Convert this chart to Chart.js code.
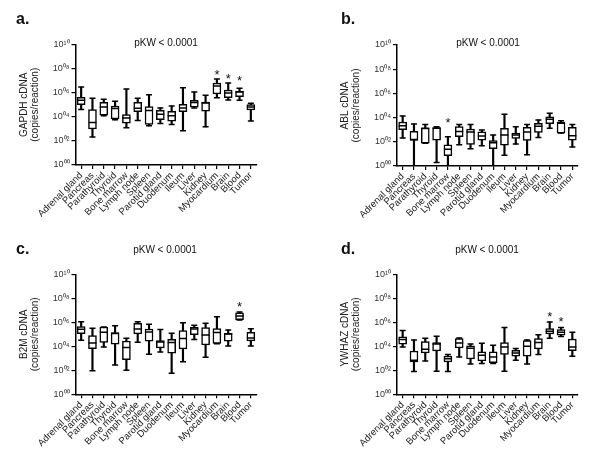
<!DOCTYPE html>
<html>
<head>
<meta charset="utf-8">
<script src="https://cdn.jsdelivr.net/npm/chart.js@4.4.0/dist/chart.umd.min.js"></script>
<style>
    html, body { margin: 0; padding: 0; background: #fff; }
    #wrap { position: relative; width: 600px; height: 464px; }
    .panel { position: absolute; width: 300px; height: 232px; }
</style>
</head>
<body>
<div id="wrap">
    <div class="panel" style="left:0;top:0"><canvas id="chart-a"></canvas></div>
    <div class="panel" style="left:300px;top:0"><canvas id="chart-b"></canvas></div>
    <div class="panel" style="left:0;top:232px"><canvas id="chart-c"></canvas></div>
    <div class="panel" style="left:300px;top:232px"><canvas id="chart-d"></canvas></div>
</div>
<script>
// Tissues on the x axis
const tissues = ['Adrenal gland', 'Pancreas', 'Parathyroid', 'Thyroid', 'Bone marrow', 'Lymph node',
    'Spleen', 'Parotid gland', 'Duodenum', 'Ileum', 'Liver', 'Kidney', 'Myocardium', 'Brain', 'Blood', 'Tumor'];

// y ticks are powers of ten (exponents), labels as shown in the figure
const tickExponents = [0, 2, 4, 6, 8, 10];
const tickLabels = ['10⁰⁰', '10⁰²', '10⁰⁴', '10⁰⁶', '10⁰⁸', '10¹⁰'];

// All values below are log10(copies/reaction)
// --- GAPDH ---
const gapdhMax = [6.47, 5.53, 5.45, 5.29, 6.3, 5.53, 5.84, 4.74, 4.9, 6.41, 6.05, 5.78, 7.13, 6.8, 6.36, 5.12];
const gapdhQ3 = [5.62, 4.6, 5.2, 4.9, 4.19, 5.2, 4.85, 4.54, 4.46, 5.04, 5.37, 5.23, 6.8, 6.22, 6.14, 5.01];
const gapdhMedian = [5.37, 3.53, 4.82, 4.68, 3.91, 4.71, 4.52, 4.21, 4.08, 4.74, 5.18, 5.15, 6.55, 5.97, 6.05, 4.82];
const gapdhQ1 = [5.01, 3.0, 4.13, 3.83, 3.47, 4.43, 3.36, 3.77, 3.64, 4.43, 4.79, 4.46, 5.89, 5.59, 5.67, 4.57];
const gapdhMin = [4.6, 2.32, 4.08, 3.75, 3.09, 3.69, 3.25, 3.44, 3.36, 2.84, 4.74, 3.17, 5.59, 5.4, 5.37, 3.66];
const gapdhStars = [null, null, null, null, null, null, null, null, null, null, null, null, 7.79, 7.43, 7.32, null];

// --- ABL ---
const ablMax = [4.14, 3.47, 3.44, 3.25, 2.42, 3.44, 3.44, 2.97, 2.56, 4.28, 3.25, 3.44, 3.81, 4.36, 3.75, 3.42];
const ablQ3 = [3.64, 2.86, 3.14, 3.17, 1.75, 3.25, 3.06, 2.83, 2.11, 3.11, 2.72, 3.19, 3.53, 4.06, 3.64, 3.19];
const ablMedian = [3.33, 2.2, 3.11, 3.11, 1.39, 2.86, 2.8, 2.47, 1.92, 2.56, 2.56, 2.8, 3.28, 3.86, 3.53, 2.5];
const ablQ1 = [3.0, 2.11, 1.89, 2.14, 0.86, 2.42, 1.78, 2.14, 1.44, 1.72, 2.28, 2.11, 2.78, 3.5, 2.72, 2.14];
const ablMin = [2.31, 0, 1.89, 0.28, 0, 1.75, 1.42, 1.67, 0, 0.89, 1.81, 0.92, 2.36, 3.11, 2.72, 1.58];
const ablStars = [null, null, null, null, 3.86, null, null, null, null, null, null, null, null, null, null, null];

// --- B2M ---
const b2mMax = [6.05, 5.5, 5.61, 5.72, 4.67, 6.05, 5.83, 5.39, 5.08, 5.97, 5.75, 5.92, 6.47, 5.36, 6.86, 5.47];
const b2mQ3 = [5.64, 4.89, 5.61, 5.14, 4.44, 5.92, 5.44, 4.47, 4.58, 5.31, 5.61, 5.56, 5.47, 5.08, 6.78, 5.17];
const b2mMedian = [5.42, 4.28, 5.17, 5.06, 3.89, 5.44, 5.19, 4.36, 4.31, 4.64, 5.44, 4.94, 5.14, 5.03, 6.53, 4.69];
const b2mQ1 = [5.06, 3.81, 4.33, 4.17, 2.89, 5.03, 4.42, 3.86, 3.42, 3.78, 4.97, 4.11, 4.25, 4.42, 6.22, 4.44];
const b2mMin = [4.5, 1.97, 3.94, 2.44, 2.0, 4.33, 3.33, 3.53, 1.75, 2.72, 4.56, 3.08, 4.22, 4.03, 6.19, 4.03];
const b2mStars = [null, null, null, null, null, null, null, null, null, null, null, null, null, null, 7.64, null];

// --- YWHAZ ---
const ywhazMax = [5.31, 4.53, 4.67, 4.83, 3.31, 4.69, 4.19, 4.25, 4.08, 5.56, 3.81, 4.53, 4.97, 6.03, 5.56, 5.17];
const ywhazQ3 = [4.78, 3.61, 4.39, 4.31, 3.19, 4.64, 4.03, 3.53, 3.53, 4.31, 3.67, 4.47, 4.64, 5.47, 5.39, 4.61];
const ywhazMedian = [4.56, 2.83, 3.75, 4.19, 2.97, 4.28, 3.83, 3.25, 3.11, 3.94, 3.44, 4.0, 4.31, 5.25, 5.17, 3.94];
const ywhazQ1 = [4.17, 2.69, 3.44, 3.61, 2.69, 3.86, 2.94, 2.78, 2.64, 3.33, 3.17, 3.17, 3.78, 5.03, 4.92, 3.64];
const ywhazMin = [3.94, 1.89, 2.78, 1.92, 1.89, 3.11, 2.53, 2.56, 2.56, 1.92, 2.83, 2.53, 3.31, 4.67, 4.81, 3.17];
const ywhazStars = [null, null, null, null, null, null, null, null, null, null, null, null, null, 6.75, 6.39, null];

const FONT = "'Liberation Sans', Arial, sans-serif";
const INK = '#000';

// Draws the panel letter, the pKW note and the significance stars
const annotations = {
    id: 'annotations',
    afterDatasetsDraw(chart, args, opts) {
        const ctx = chart.ctx;
        const x = chart.scales.x, y = chart.scales.y;
        ctx.save();
        ctx.fillStyle = '#111';
        ctx.font = `bold 16px ${FONT}`;
        ctx.textAlign = 'left';
        ctx.textBaseline = 'middle';
        ctx.fillText(opts.letter, opts.letterX, opts.letterY);

        ctx.font = `10px ${FONT}`;
        ctx.textAlign = 'center';
        ctx.fillText('pKW < 0.0001', opts.noteX, opts.noteY);

        ctx.font = `13px ${FONT}`;
        ctx.textBaseline = 'alphabetic';
        opts.stars.forEach((v, i) => {
            if (v === null) return;
            ctx.fillText('*', x.getPixelForValue(i), y.getPixelForValue(v) + 8);
        });
        ctx.restore();
    }
};

function makePanel(id, cfg) {
    const boxes = cfg.q1.map((v, i) => [v, cfg.q3[i]]);
    const whiskers = cfg.min.map((v, i) => [v, cfg.max[i]]);
    const markLine = (data, radius, order) => ({
        type: 'line',
        data: data,
        showLine: false,
        pointStyle: 'line',
        pointRadius: radius,
        pointHoverRadius: radius,
        pointBorderWidth: 1.5,
        pointBorderColor: INK,
        order: order
    });

    new Chart(document.getElementById(id), {
        type: 'bar',
        data: {
            labels: tissues,
            datasets: [
                { data: whiskers, backgroundColor: INK, barThickness: 1.5, grouped: false, order: 3 },
                { data: boxes, backgroundColor: '#fff', borderColor: INK, borderWidth: 1.5,
                  borderSkipped: false, barThickness: 8, grouped: false, order: 2 },
                markLine(cfg.median, 4, 1),
                markLine(cfg.max, 3, 1),
                markLine(cfg.min, 3, 1)
            ]
        },
        options: {
            responsive: true,
            maintainAspectRatio: false,
            animation: false,
            events: [],
            layout: { padding: { left: 0, top: cfg.top, right: 300 - cfg.right, bottom: 0 } },
            scales: {
                x: {
                    offset: true,
                    afterFit: s => { s.height = 232 - cfg.bottom; },
                    grid: { display: true, drawOnChartArea: false, drawTicks: true, tickLength: 4, color: INK, lineWidth: 1.2, offset: false },
                    border: { display: true, color: INK, width: 1.5 },
                    ticks: { color: '#222', font: { family: FONT, size: 9.5 }, minRotation: 45, maxRotation: 45, padding: 1, autoSkip: false }
                },
                y: {
                    min: 0,
                    max: 10,
                    afterFit: s => { s.width = cfg.left; },
                    afterBuildTicks: s => { s.ticks = tickExponents.map(v => ({ value: v })); },
                    ticks: {
                        color: '#333',
                        font: { family: FONT, size: 9 },
                        padding: 2,
                        callback: v => tickLabels[tickExponents.indexOf(v)]
                    },
                    grid: { display: true, drawOnChartArea: false, drawTicks: true, tickLength: 4, color: INK, lineWidth: 1.2 },
                    border: { display: true, color: INK, width: 1.5 },
                    title: {
                        display: true,
                        text: [cfg.gene + ' cDNA', '(copies/reaction)'],
                        color: '#222',
                        font: { family: FONT, size: 10, lineHeight: 1.1 },
                        padding: { top: cfg.titlePad, bottom: 0 }
                    }
                }
            },
            plugins: {
                legend: { display: false },
                tooltip: { enabled: false },
                annotations: {
                    letter: cfg.letter, letterX: cfg.letterX, letterY: cfg.letterY,
                    noteX: cfg.noteX, noteY: cfg.noteY, stars: cfg.stars
                }
            }
        },
        plugins: [annotations]
    });
}

makePanel('chart-a', {
    gene: 'GAPDH', letter: 'a.', letterX: 16, letterY: 20, noteX: 166, noteY: 43,
    left: 75.5, right: 256.5, top: 44.5, bottom: 165, titlePad: 18.5,
    max: gapdhMax, q3: gapdhQ3, median: gapdhMedian, q1: gapdhQ1, min: gapdhMin, stars: gapdhStars
});
makePanel('chart-b', {
    gene: 'ABL', letter: 'b.', letterX: 41, letterY: 20, noteX: 188, noteY: 43,
    left: 97, right: 278, top: 45, bottom: 166, titlePad: 40,
    max: ablMax, q3: ablQ3, median: ablMedian, q1: ablQ1, min: ablMin, stars: ablStars
});
makePanel('chart-c', {
    gene: 'B2M', letter: 'c.', letterX: 16, letterY: 18, noteX: 165, noteY: 18,
    left: 75.5, right: 256.5, top: 42.3, bottom: 162.3, titlePad: 18.5,
    max: b2mMax, q3: b2mQ3, median: b2mMedian, q1: b2mQ1, min: b2mMin, stars: b2mStars
});
makePanel('chart-d', {
    gene: 'YWHAZ', letter: 'd.', letterX: 41, letterY: 18, noteX: 187, noteY: 18,
    left: 97, right: 278, top: 42.3, bottom: 162.3, titlePad: 40,
    max: ywhazMax, q3: ywhazQ3, median: ywhazMedian, q1: ywhazQ1, min: ywhazMin, stars: ywhazStars
});
</script>
</body>
</html>
